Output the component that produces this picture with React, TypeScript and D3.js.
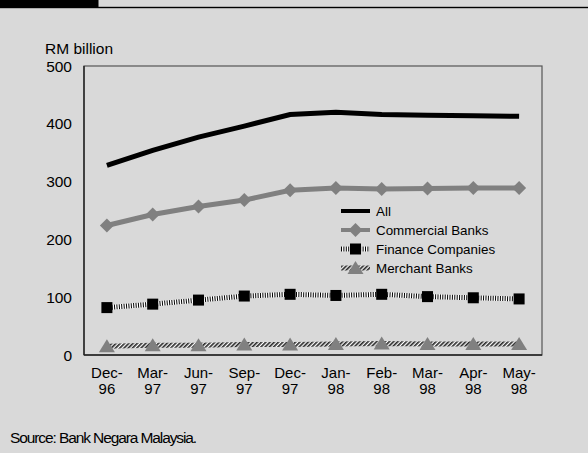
import React from "react";
import * as d3 from "d3";

const categories = ["Dec-96", "Mar-97", "Jun-97", "Sep-97", "Dec-97", "Jan-98", "Feb-98", "Mar-98", "Apr-98", "May-98"];
const allBanks = [328, 354, 377, 396, 416, 420, 416, 415, 414, 413];
const commercialBanks = [224, 243, 257, 268, 285, 289, 287, 288, 289, 289];
const financeCompanies = [82, 88, 95, 102, 105, 103, 105, 101, 99, 97];
const merchantBanks = [15, 17, 17, 18, 18, 19, 20, 19, 19, 19];
const yTicks = [0, 100, 200, 300, 400, 500];
const legendLabels = ["All", "Commercial Banks", "Finance Companies", "Merchant Banks"];

const W = 588, H = 453;
const left = 84, right = 542, top = 66, bottom = 355;
const font = "'Liberation Sans', Arial, sans-serif";

export default function App() {
  const x = d3.scaleBand<string>().domain(categories).range([left, right]);
  const cx = (c: string) => (x(c) as number) + x.bandwidth() / 2;
  const y = d3.scaleLinear().domain([0, 500]).range([bottom, top]);
  const line = d3.line<number>().x((_, i) => cx(categories[i])).y((d) => y(d));

  const diamond = (px: number, py: number, s = 7) => `M${px},${py - s}L${px + s},${py}L${px},${py + s}L${px - s},${py}Z`;
  const tri = (px: number, py: number) => `M${px},${py - 7}L${px + 8},${py + 6}L${px - 8},${py + 6}Z`;

  const lg = { x1: 341, x2: 370, tx: 376, ys: [211, 230, 249, 268] };

  return (
    <svg width={W} height={H} style={{ position: "absolute", left: 0, top: 0 }} fontFamily={font}>
      <defs>
        <pattern id="hatch" width="3" height="3" patternUnits="userSpaceOnUse" patternTransform="rotate(45)">
          <rect width="3" height="3" fill="#ffffff" />
          <rect width="1.7" height="3" fill="#2a2a2a" />
        </pattern>
      </defs>
      <rect width={W} height={H} fill="#d9d9d9" />
      <rect x={0} y={0} width={98.5} height={7} fill="#000" />
      <rect x={0} y={6.8} width={W} height={1.4} fill="#000" />

      {/* frame */}
      <rect x={left} y={top} width={right - left} height={bottom - top} fill="none" stroke="#555" strokeWidth={1.2} />
      <line x1={left} x2={left} y1={top} y2={bottom} stroke="#222" strokeWidth={1.4} />
      <line x1={left} x2={right} y1={bottom} y2={bottom} stroke="#222" strokeWidth={1.4} />

      <text x={45} y={54} fontSize={15.5} fill="#000">RM billion</text>
      {yTicks.map((t) => (
        <text key={t} x={72} y={y(t) + 5.5} fontSize={15.5} textAnchor="end" fill="#000">{t}</text>
      ))}
      {categories.map((c) => {
        const [a, b] = c.split("-");
        return (
          <text key={c} x={cx(c)} fontSize={15} textAnchor="middle" fill="#000">
            <tspan x={cx(c)} y={378}>{a}-</tspan>
            <tspan x={cx(c)} y={393.5}>{b}</tspan>
          </text>
        );
      })}

      {/* All */}
      <path d={line(allBanks) as string} fill="none" stroke="#000" strokeWidth={5} />
      {/* Commercial */}
      <path d={line(commercialBanks) as string} fill="none" stroke="#808080" strokeWidth={5} />
      {commercialBanks.map((v, i) => (
        <path key={i} d={diamond(cx(categories[i]), y(v))} fill="#808080" />
      ))}
      {/* Finance */}
      <path d={line(financeCompanies) as string} fill="none" stroke="#fff" strokeWidth={5} />
      <path d={line(financeCompanies) as string} fill="none" stroke="#000" strokeWidth={5} strokeDasharray="1 1.4" />
      {financeCompanies.map((v, i) => (
        <rect key={i} x={cx(categories[i]) - 5.5} y={y(v) - 5.5} width={11} height={11} fill="#000" />
      ))}
      {/* Merchant */}
      <path d={line(merchantBanks) as string} fill="none" stroke="url(#hatch)" strokeWidth={5} />
      {merchantBanks.map((v, i) => (
        <path key={i} d={tri(cx(categories[i]), y(v))} fill="#808080" />
      ))}

      {/* legend */}
      <line x1={lg.x1} x2={lg.x2} y1={lg.ys[0]} y2={lg.ys[0]} stroke="#000" strokeWidth={4} />
      <line x1={lg.x1} x2={lg.x2} y1={lg.ys[1]} y2={lg.ys[1]} stroke="#808080" strokeWidth={4} />
      <path d={diamond((lg.x1 + lg.x2) / 2, lg.ys[1], 7)} fill="#808080" />
      <line x1={lg.x1} x2={lg.x2} y1={lg.ys[2]} y2={lg.ys[2]} stroke="#fff" strokeWidth={5} />
      <line x1={lg.x1} x2={lg.x2} y1={lg.ys[2]} y2={lg.ys[2]} stroke="#000" strokeWidth={5} strokeDasharray="1 1.4" />
      <rect x={(lg.x1 + lg.x2) / 2 - 5.5} y={lg.ys[2] - 5.5} width={11} height={11} fill="#000" />
      <line x1={lg.x1} x2={lg.x2} y1={lg.ys[3]} y2={lg.ys[3]} stroke="url(#hatch)" strokeWidth={5} />
      <path d={tri((lg.x1 + lg.x2) / 2, lg.ys[3])} fill="#808080" />
      {legendLabels.map((l, i) => (
        <text key={l} x={lg.tx} y={lg.ys[i] + 5} fontSize={13.4} fill="#000">{l}</text>
      ))}

      <text x={10} y={443} fontSize={15.5} letterSpacing={-1.1} fill="#000">Source: Bank Negara Malaysia.</text>
    </svg>
  );
}
